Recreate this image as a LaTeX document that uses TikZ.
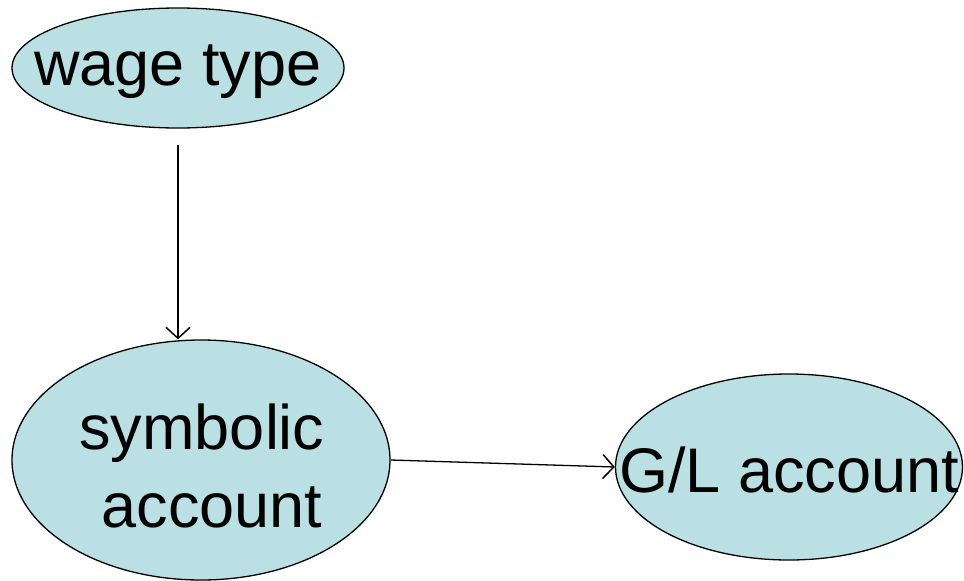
\documentclass[tikz,border=0pt]{standalone}
\usepackage{fontspec}
\setmainfont{Liberation Sans}
\usetikzlibrary{shapes.geometric,arrows.meta}
\definecolor{nodefill}{RGB}{186,224,227}
\begin{document}
\begin{tikzpicture}[x=1pt,y=-1pt,
  bubble/.style={ellipse,draw=black,line width=1.3pt,fill=nodefill,inner sep=0pt},
  label/.style={inner sep=0pt,font=\fontsize{63}{78}\selectfont,align=center},
  conn/.style={line width=1.3pt,-{Straight Barb[length=11pt,width=24pt,line width=1.5pt]}}]
\useasboundingbox (0,0) rectangle (964,581);
\node[bubble,minimum width=332pt,minimum height=120pt] (wage) at (178,68) {};
\node[label] (wagetxt) at (178,72) {wage type};
\node[bubble,minimum width=378pt,minimum height=240pt] (sym) at (201,460) {};
\node[label] (symtxt) at (202,466) {symbolic\\\hspace{20pt}account};
\node[bubble,minimum width=347pt,minimum height=186pt] (gl) at (789,467) {};
\node[label] (gltxt) at (789,470) {G/L account};
\coordinate (ws) at (178,145);
\draw[conn] (ws) -- (ws |- sym.north);
\draw[conn] (sym.east) -- (gl.west);
\end{tikzpicture}
\end{document}
